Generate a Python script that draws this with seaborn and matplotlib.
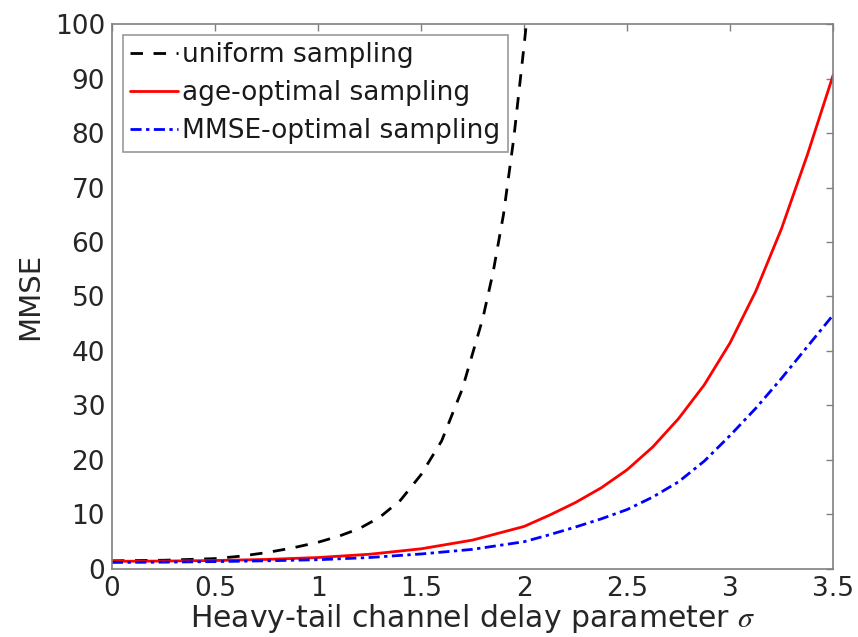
import matplotlib
matplotlib.use("Agg")
import matplotlib.pyplot as plt
import seaborn as sns
import pandas as pd

# sigma values and MMSE
sigma_uniform = [0.0, 0.25, 0.5, 0.625, 0.75, 0.875, 1.0, 1.1, 1.2, 1.3, 1.4,
                 1.5, 1.6, 1.7, 1.8, 1.85, 1.9, 1.95, 2.0, 2.03]
mmse_uniform = [1.5, 1.6, 1.9, 2.35, 3.0, 3.85, 4.9, 6.0, 7.4, 9.5, 12.6,
                17.3, 23.5, 33.0, 46.0, 54.5, 65.0, 79.0, 96.0, 107.0]

sigma_opt = [0.0, 0.25, 0.5, 0.75, 1.0, 1.25, 1.5, 1.75, 2.0, 2.125, 2.25,
             2.375, 2.5, 2.625, 2.75, 2.875, 3.0, 3.125, 3.25, 3.375, 3.5]
mmse_age = [1.4, 1.45, 1.55, 1.75, 2.1, 2.7, 3.7, 5.3, 7.8, 9.9, 12.2,
            14.9, 18.2, 22.4, 27.6, 33.8, 41.5, 51.0, 62.5, 76.0, 90.6]
mmse_mmse = [1.2, 1.25, 1.35, 1.5, 1.7, 2.1, 2.75, 3.6, 5.0, 6.3, 7.7,
             9.2, 10.9, 13.2, 16.0, 19.8, 24.5, 29.5, 35.0, 40.8, 46.6]

labels = ["uniform sampling", "age-optimal sampling", "MMSE-optimal sampling"]
x_ticks = [0, 0.5, 1, 1.5, 2, 2.5, 3, 3.5]
x_tick_labels = ["0", "0.5", "1", "1.5", "2", "2.5", "3", "3.5"]
y_ticks = list(range(0, 101, 10))

df_u = pd.DataFrame({"sigma": sigma_uniform, "mmse": mmse_uniform})
df_a = pd.DataFrame({"sigma": sigma_opt, "mmse": mmse_age})
df_m = pd.DataFrame({"sigma": sigma_opt, "mmse": mmse_mmse})

sns.set_style("white")
plt.rcParams["font.family"] = ["DejaVu Sans"]
plt.rcParams["mathtext.fontset"] = "stix"

fig = plt.figure(figsize=(8.58, 6.37), dpi=100)
ax = fig.add_axes([0.1305, 0.1068, 0.8405, 0.8555])

lw = 2.0
sns.lineplot(data=df_u, x="sigma", y="mmse", ax=ax, color="black",
             linewidth=lw, label=labels[0], estimator=None, sort=False)
ax.lines[-1].set_dashes([4.5, 3.8])
sns.lineplot(data=df_a, x="sigma", y="mmse", ax=ax, color="#ff0000",
             linewidth=lw, label=labels[1], estimator=None, sort=False)
sns.lineplot(data=df_m, x="sigma", y="mmse", ax=ax, color="#0000ff",
             linewidth=lw, label=labels[2], estimator=None, sort=False)
ax.lines[-1].set_dashes([4.0, 1.6, 1.2, 1.6])

ax.set_xlim(0, 3.5)
ax.set_ylim(0, 100)
ax.set_xticks(x_ticks)
ax.set_xticklabels(x_tick_labels)
ax.set_yticks(y_ticks)

for s in ax.spines.values():
    s.set_color("#808080")
    s.set_linewidth(1.2)
ax.tick_params(direction="in", length=5, width=1, color="#808080",
               top=True, right=True, labelsize=19, labelcolor="#262626", pad=5)

ax.set_xlabel(r"Heavy-tail channel delay parameter $\sigma$", fontsize=21.5,
              color="#262626", labelpad=0)
ax.set_ylabel("MMSE", fontsize=21, color="#262626", labelpad=8)

leg = ax.legend(loc="upper left", fontsize=19, frameon=True, fancybox=False,
                edgecolor="#808080", handlelength=1.8, handletextpad=0.15,
                borderpad=0.3, labelspacing=0.45, borderaxespad=0.4)
leg.get_frame().set_linewidth(1.2)
for t in leg.get_texts():
    t.set_color("#1a1a1a")

fig.savefig("out.png", dpi=100)
